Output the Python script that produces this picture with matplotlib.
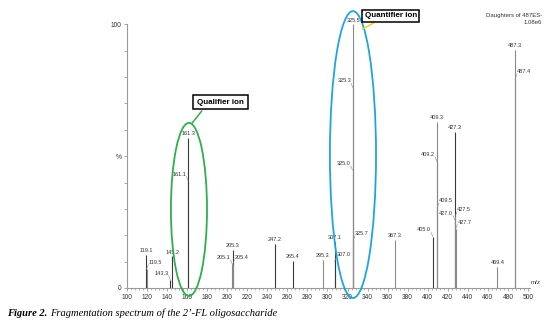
"""
MS/MS daughter-ion spectrum of the 2'-FL oligosaccharide (precursor m/z 487).

python plot.py  ->  out.png
"""

import matplotlib
matplotlib.use("Agg")

import matplotlib.pyplot as plt
from matplotlib.patches import Ellipse

# ---------------------------------------------------------------------------
# Peak list (m/z, relative intensity %)
# ---------------------------------------------------------------------------
peak_mz = [119.1, 119.5, 143.3, 145.2, 161.1, 161.3, 205.1, 205.3, 205.4,
           247.2, 265.4, 295.3, 307.0, 307.1, 325.0, 325.3, 325.5, 325.7,
           367.3, 405.0, 409.2, 409.3, 409.5, 427.0, 427.3, 427.5, 427.7,
           469.4, 487.3, 487.4]
peak_int = [12.5, 7.2, 3.0, 12.0, 40.6, 57.0, 9.0, 14.4, 9.0,
            16.7, 10.3, 10.6, 10.0, 17.5, 44.7, 76.0, 100.0, 18.2,
            18.2, 19.5, 48.0, 63.0, 30.7, 25.8, 59.3, 27.3, 22.4,
            8.0, 90.3, 79.6]

# where each label sits: "top" = on the peak, "L"/"R" = offset with a leader
label_side = ["top", "R", "L", "top", "L", "top", "L", "top", "R",
              "top", "top", "top", "R", "top", "L", "L", "top", "R",
              "top", "L", "L", "top", "R", "L", "top", "R", "R",
              "top", "top", "R"]

dark_peaks = [119.1, 143.3, 145.2, 161.3, 205.3, 247.2, 265.4, 307.0, 307.1,
              405.0, 427.3]

x_major = list(range(100, 501, 20))
y_major = list(range(0, 101, 10))
y_ticklabels = ["0", "", "", "", "", "%", "", "", "", "", "100"]

C_LINE = "#8a8a8a"
C_DARK = "#3a3a3a"
C_AXIS = "#9a9a9a"
C_TXT = "#333333"
C_GREEN = "#2fae4e"
C_BLUE = "#1ea5df"
C_YELLOW = "#f2d21b"

plt.rcParams["font.family"] = ["Liberation Sans", "DejaVu Sans"]

fig = plt.figure(figsize=(5.5, 3.23), dpi=100, facecolor="white")
ax = fig.add_axes([127 / 550, 35 / 323, 403 / 550, 263.7 / 323])
ax.set_xlim(100, 502)
ax.set_ylim(0, 100)

for s in ("top", "right"):
    ax.spines[s].set_visible(False)
for s in ("left", "bottom"):
    ax.spines[s].set_color(C_AXIS)
    ax.spines[s].set_linewidth(0.8)

ax.set_xticks(x_major)
ax.set_xticks(range(100, 501, 4), minor=True)
ax.set_yticks(y_major)
ax.set_yticklabels(y_ticklabels)
ax.tick_params(axis="both", which="major", labelsize=4.8, colors=C_AXIS,
               labelcolor=C_TXT, length=2.5, width=0.6, pad=1.5)
ax.tick_params(axis="x", which="minor", length=1.5, width=0.5, colors=C_AXIS)

# ---------------------------------------------------------------------------
# Stick spectrum
# ---------------------------------------------------------------------------
for mz, h in zip(peak_mz, peak_int):
    col = C_DARK if mz in dark_peaks else C_LINE
    ax.vlines(mz, 0, h, color=col, linewidth=0.8, zorder=2)

for mz, h, side in zip(peak_mz, peak_int, label_side):
    txt = f"{mz:.1f}"
    if side == "top":
        ax.text(mz, h + 0.6, txt, ha="center", va="bottom", fontsize=4,
                color=C_TXT, zorder=4)
    else:
        sgn = 1 if side == "R" else -1
        lx, ly = mz + sgn * 1.8, h + 1.6
        ax.plot([mz, lx], [h, ly], color=C_LINE, linewidth=0.4, zorder=3)
        ax.text(lx, ly, txt, ha="left" if sgn > 0 else "right", va="bottom",
                fontsize=4, color=C_TXT, zorder=4)

# ---------------------------------------------------------------------------
# Ion highlights
# ---------------------------------------------------------------------------
ax.add_patch(Ellipse((161.8, 29.8), 36, 65.6, fill=False, edgecolor=C_GREEN,
                     linewidth=1.3, clip_on=False, zorder=5))
ax.add_patch(Ellipse((325.4, 50.6), 46, 108.8, fill=False, edgecolor=C_BLUE,
                     linewidth=1.3, clip_on=False, zorder=5))

ax.plot([165.1, 174.5], [62.6, 67.1], color=C_GREEN, linewidth=1.1,
        clip_on=False, zorder=5)
ax.plot([335.1, 346.4], [98.2, 100.6], color=C_YELLOW, linewidth=1.1,
        clip_on=False, zorder=5)

box = dict(boxstyle="square,pad=0.45", facecolor="white", edgecolor="black",
           linewidth=1.1)
ax.text(193.3, 70.5, "Qualifier ion", ha="center", va="center", fontsize=5.8,
        fontweight="bold", bbox=box, zorder=6)
ax.text(363.3, 103.3, "Quantifier ion", ha="center", va="center", fontsize=5.8,
        fontweight="bold", bbox=dict(box, boxstyle="square,pad=0.3"),
        clip_on=False, zorder=6)

# ---------------------------------------------------------------------------
# Header, axis unit and caption
# ---------------------------------------------------------------------------
fig.text(542 / 550, 1 - 15 / 323, "Daughters of 487ES-", ha="right",
         va="center", fontsize=4.3, color=C_TXT)
fig.text(542 / 550, 1 - 22 / 323, "1.08e6", ha="right", va="center",
         fontsize=4.3, color=C_TXT)
fig.text(531 / 550, 1 - 285 / 323, "m/z", ha="left", va="bottom",
         fontsize=4.5, color=C_TXT)

cap_y = 1 - 313 / 323
head = fig.text(7 / 550, cap_y, "Figure 2.", ha="left", va="center",
                fontsize=7.6, family="Liberation Serif", style="italic",
                fontweight="bold")
renderer = fig.canvas.get_renderer()
bb = head.get_window_extent(renderer).transformed(fig.transFigure.inverted())
fig.text(bb.x1 + 3 / 550, cap_y,
         "Fragmentation spectrum of the 2\u2019-FL oligosaccharide",
         ha="left", va="center", fontsize=7.6, family="Liberation Serif",
         style="italic")

fig.savefig("out.png", dpi=100, facecolor="white")
